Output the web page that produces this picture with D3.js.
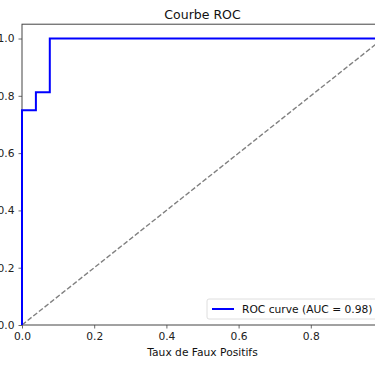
<!DOCTYPE html>
<html>
<head>
<meta charset="utf-8">
<script src="https://cdn.jsdelivr.net/npm/d3@7"></script>
<style>
  body { margin: 0; background: #fff; }
  svg { display: block; font-family: "DejaVu Sans", sans-serif; }
</style>
</head>
<body>
<div id="chart"></div>
<script>
// ROC curve data (fpr / tpr)
const fpr = [0, 0, 0.0385, 0.0385, 0.077, 0.077, 1];
const tpr = [0, 0.75, 0.75, 0.8125, 0.8125, 1, 1];
const diagX = [0, 1];
const diagY = [0, 1];
const xTicks = [0, 0.2, 0.4, 0.6, 0.8, 1.0];
const yTicks = [0, 0.2, 0.4, 0.6, 0.8, 1.0];
const auc = 0.98;

const width = 375, height = 366;
const svg = d3.select('#chart').append('svg')
    .attr('width', width)
    .attr('height', height);

// plot area (right edge falls outside the crop)
const x = d3.scaleLinear().domain([0, 1]).range([22, 383]);
const y = d3.scaleLinear().domain([0, 1.05]).range([325, 24.2]);

const axisColor = '#444';
const fs = '10.7px';

// x axis
const xAxis = svg.append('g')
    .attr('transform', `translate(0,${y(0)})`)
    .call(d3.axisBottom(x).tickValues(xTicks).tickFormat(d3.format('.1f')).tickSize(3.5).tickPadding(4));
// y axis
const yAxis = svg.append('g')
    .attr('transform', `translate(${x(0)},0)`)
    .call(d3.axisLeft(y).tickValues(yTicks).tickFormat(d3.format('.1f')).tickSize(3.5).tickPadding(4));

[xAxis, yAxis].forEach(a => {
    a.select('.domain').remove();
    a.selectAll('line').attr('stroke', axisColor).attr('stroke-width', 0.8);
    a.selectAll('text').attr('fill', '#222').style('font-size', fs)
        .style('font-family', '"DejaVu Sans", sans-serif');
});

// frame
svg.append('rect')
    .attr('x', x(0)).attr('y', y(1.05))
    .attr('width', x(1) - x(0)).attr('height', y(0) - y(1.05))
    .attr('fill', 'none')
    .attr('stroke', axisColor)
    .attr('stroke-width', 1);

// diagonal
svg.append('path')
    .datum(diagX.map((d, i) => [d, diagY[i]]))
    .attr('d', d3.line().x(d => x(d[0])).y(d => y(d[1])))
    .attr('fill', 'none')
    .attr('stroke', '#808080')
    .attr('stroke-width', 1.4)
    .attr('stroke-dasharray', '5,2.2');

// ROC curve
svg.append('path')
    .datum(fpr.map((d, i) => [d, tpr[i]]))
    .attr('d', d3.line().x(d => x(d[0])).y(d => y(d[1])))
    .attr('fill', 'none')
    .attr('stroke', '#0000ff')
    .attr('stroke-width', 2);

// title and labels
svg.append('text')
    .attr('x', (x(0) + x(1)) / 2).attr('y', 19)
    .attr('text-anchor', 'middle')
    .style('font-size', '12.5px')
    .attr('fill', '#111')
    .text('Courbe ROC');

svg.append('text')
    .attr('x', (x(0) + x(1)) / 2).attr('y', 356)
    .attr('text-anchor', 'middle')
    .style('font-size', fs)
    .attr('fill', '#111')
    .text('Taux de Faux Positifs');

svg.append('text')
    .attr('transform', `translate(-22,${(y(0) + y(1.05)) / 2}) rotate(-90)`)
    .attr('text-anchor', 'middle')
    .style('font-size', fs)
    .attr('fill', '#111')
    .text('Taux de Vrais Positifs');

// legend
const legend = svg.append('g').attr('transform', 'translate(207,299)');
legend.append('rect')
    .attr('width', 172).attr('height', 20)
    .attr('rx', 2)
    .attr('fill', 'rgba(255,255,255,0.8)')
    .attr('stroke', '#d5d5d5')
    .attr('stroke-width', 0.8);
legend.append('line')
    .attr('x1', 5).attr('x2', 27)
    .attr('y1', 10).attr('y2', 10)
    .attr('stroke', '#0000ff')
    .attr('stroke-width', 2);
legend.append('text')
    .attr('x', 35).attr('y', 14)
    .style('font-size', fs)
    .attr('fill', '#111')
    .text(`ROC curve (AUC = ${auc.toFixed(2)})`);
</script>
</body>
</html>
